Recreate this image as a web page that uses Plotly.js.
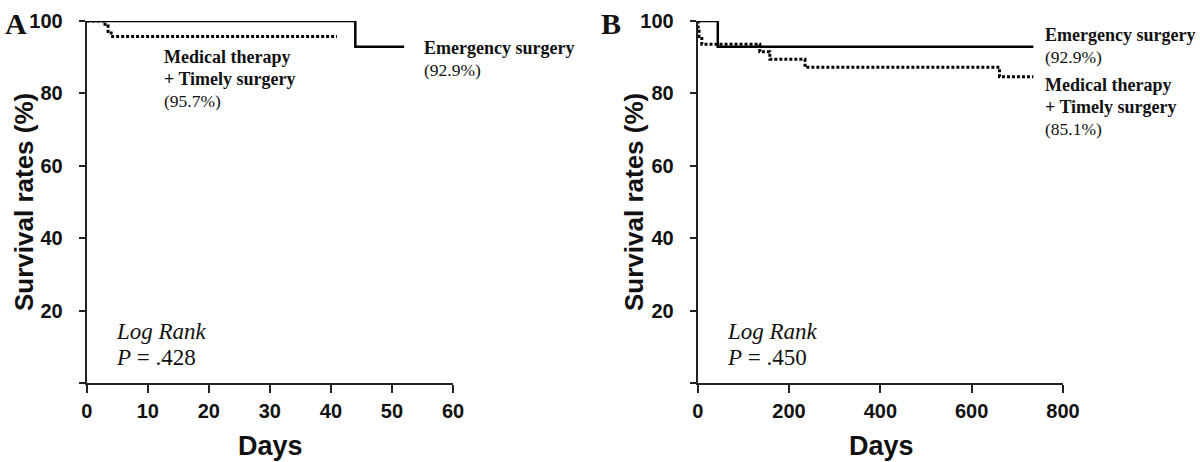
<!DOCTYPE html>
<html>
<head>
<meta charset="utf-8">
<script src="https://cdn.plot.ly/plotly-3.0.1.min.js"></script>
<style>html,body{margin:0;padding:0;background:#fff;}#chart{width:1200px;height:462px;}</style>
</head>
<body>
<div id="chart"></div>
<script>
// ---- Data ----
// Panel A (days 0-60)
const aEmergencyDays = [0, 44, 52];
const aEmergencySurv = [100, 92.9, 92.9];
const aMedicalDays = [0, 3, 3.5, 4, 41];
const aMedicalSurv = [100, 98.6, 97.1, 95.7, 95.7];
// Panel B (days 0-800)
const bEmergencyDays = [0, 44, 735];
const bEmergencySurv = [100, 92.9, 92.9];
const bMedicalDays = [0, 1, 3, 9, 136, 158, 235, 661, 735];
const bMedicalSurv = [100, 97.9, 95.7, 93.6, 91.5, 89.4, 87.2, 84.6, 84.6];

const yTickVals = [0, 20, 40, 60, 80, 100];
const yTickText = ["", "20", "40", "60", "80", "100"];
const aXTicks = [0, 10, 20, 30, 40, 50, 60];
const bXTicks = [0, 200, 400, 600, 800];

const W = 1200, H = 462;
const px = x => x / W;
const py = y => 1 - y / H;

const SANS = "Liberation Sans, Arial, sans-serif";
const SERIF = "Liberation Serif, Times New Roman, serif";
const INK = "#111";

function solid(x, y, xa, ya) {
  return {x, y, xaxis: xa, yaxis: ya, type: "scatter", mode: "lines",
    line: {shape: "hv", color: "#000", width: 2.5}, cliponaxis: false, hoverinfo: "skip"};
}
function dotted(x, y, xa, ya) {
  return {x, y, xaxis: xa, yaxis: ya, type: "scatter", mode: "lines",
    line: {shape: "hv", color: "#000", width: 3, dash: "3px,2px"}, cliponaxis: false, hoverinfo: "skip"};
}

const traces = [
  dotted(aMedicalDays, aMedicalSurv, "x", "y"),
  solid(aEmergencyDays, aEmergencySurv, "x", "y"),
  dotted(bMedicalDays, bMedicalSurv, "x2", "y2"),
  solid(bEmergencyDays, bEmergencySurv, "x2", "y2")
];

function xAxis(domain, ticks, range, anchor) {
  return {domain, range, anchor, tickmode: "array", tickvals: ticks, ticktext: ticks.map(String),
    showline: true, linecolor: "#222", linewidth: 2, ticks: "outside", ticklen: 8, tickwidth: 2,
    tickcolor: "#222", showgrid: false, zeroline: false, automargin: false, ticklabelstandoff: 1,
    tickfont: {family: SANS, size: 20, color: INK, weight: "bold"}};
}
function yAxis(domain, anchor) {
  return {domain, range: [0, 100], anchor, tickmode: "array", tickvals: yTickVals, ticktext: yTickText,
    showline: true, linecolor: "#222", linewidth: 2, ticks: "outside", ticklen: 6, tickwidth: 2,
    tickcolor: "#222", showgrid: false, zeroline: false, automargin: false, ticklabelstandoff: 12,
    tickfont: {family: SANS, size: 20, color: INK, weight: "bold"}};
}

const yDom = [py(383), py(21)];

function ann(text, x, y, opts) {
  return Object.assign({text, x: px(x), y: py(y), xref: "paper", yref: "paper", showarrow: false,
    xanchor: "left", yanchor: "middle", font: {family: SERIF, size: 18, color: INK}}, opts || {});
}
const REG = {font: {family: SERIF, size: 17.5, color: INK}};
const ITAL = {font: {family: SERIF, size: 23, color: INK}};

const annotations = [
  // panel letters
  ann("<b>A</b>", 3, 23, {font: {family: SERIF, size: 30, color: INK}}),
  ann("<b>B</b>", 599, 23, {font: {family: SERIF, size: 30, color: INK}}),
  // axis titles
  ann("<b>Survival rates (%)</b>", 24, 202, {xanchor: "center", textangle: -90, font: {family: SANS, size: 26, color: INK}}),
  ann("<b>Survival rates (%)</b>", 634, 202, {xanchor: "center", textangle: -90, font: {family: SANS, size: 26, color: INK}}),
  ann("<b>Days</b>", 270, 446, {xanchor: "center", font: {family: SANS, size: 27, color: INK}}),
  ann("<b>Days</b>", 881, 446, {xanchor: "center", font: {family: SANS, size: 27, color: INK}}),
  // Panel A labels
  ann("<b>Medical therapy</b>", 162, 57),
  ann("<b>+ Timely surgery</b>", 162, 79),
  ann("(95.7%)", 162, 101, REG),
  ann("<b>Emergency surgery</b>", 422, 48),
  ann("(92.9%)", 422, 70, REG),
  ann("<i>Log Rank</i>", 114, 331, ITAL),
  ann("<i>P</i> = .428", 114, 357, ITAL),
  // Panel B labels
  ann("<b>Emergency surgery</b>", 1043, 35),
  ann("(92.9%)", 1043, 57, REG),
  ann("<b>Medical therapy</b>", 1043, 85),
  ann("<b>+ Timely surgery</b>", 1043, 107),
  ann("(85.1%)", 1043, 129, REG),
  ann("<i>Log Rank</i>", 725, 331, ITAL),
  ann("<i>P</i> = .450", 725, 357, ITAL)
];

const layout = {
  width: W, height: H,
  margin: {l: 0, r: 0, t: 0, b: 0},
  paper_bgcolor: "#fff", plot_bgcolor: "#fff",
  showlegend: false,
  xaxis: xAxis([px(86.7), px(453)], aXTicks, [0, 60], "y"),
  yaxis: yAxis(yDom, "x"),
  xaxis2: xAxis([px(697.7), px(1063)], bXTicks, [0, 800], "y2"),
  yaxis2: yAxis(yDom, "x2"),
  annotations
};

Plotly.newPlot("chart", traces, layout, {staticPlot: true, displayModeBar: false});
</script>
</body>
</html>
